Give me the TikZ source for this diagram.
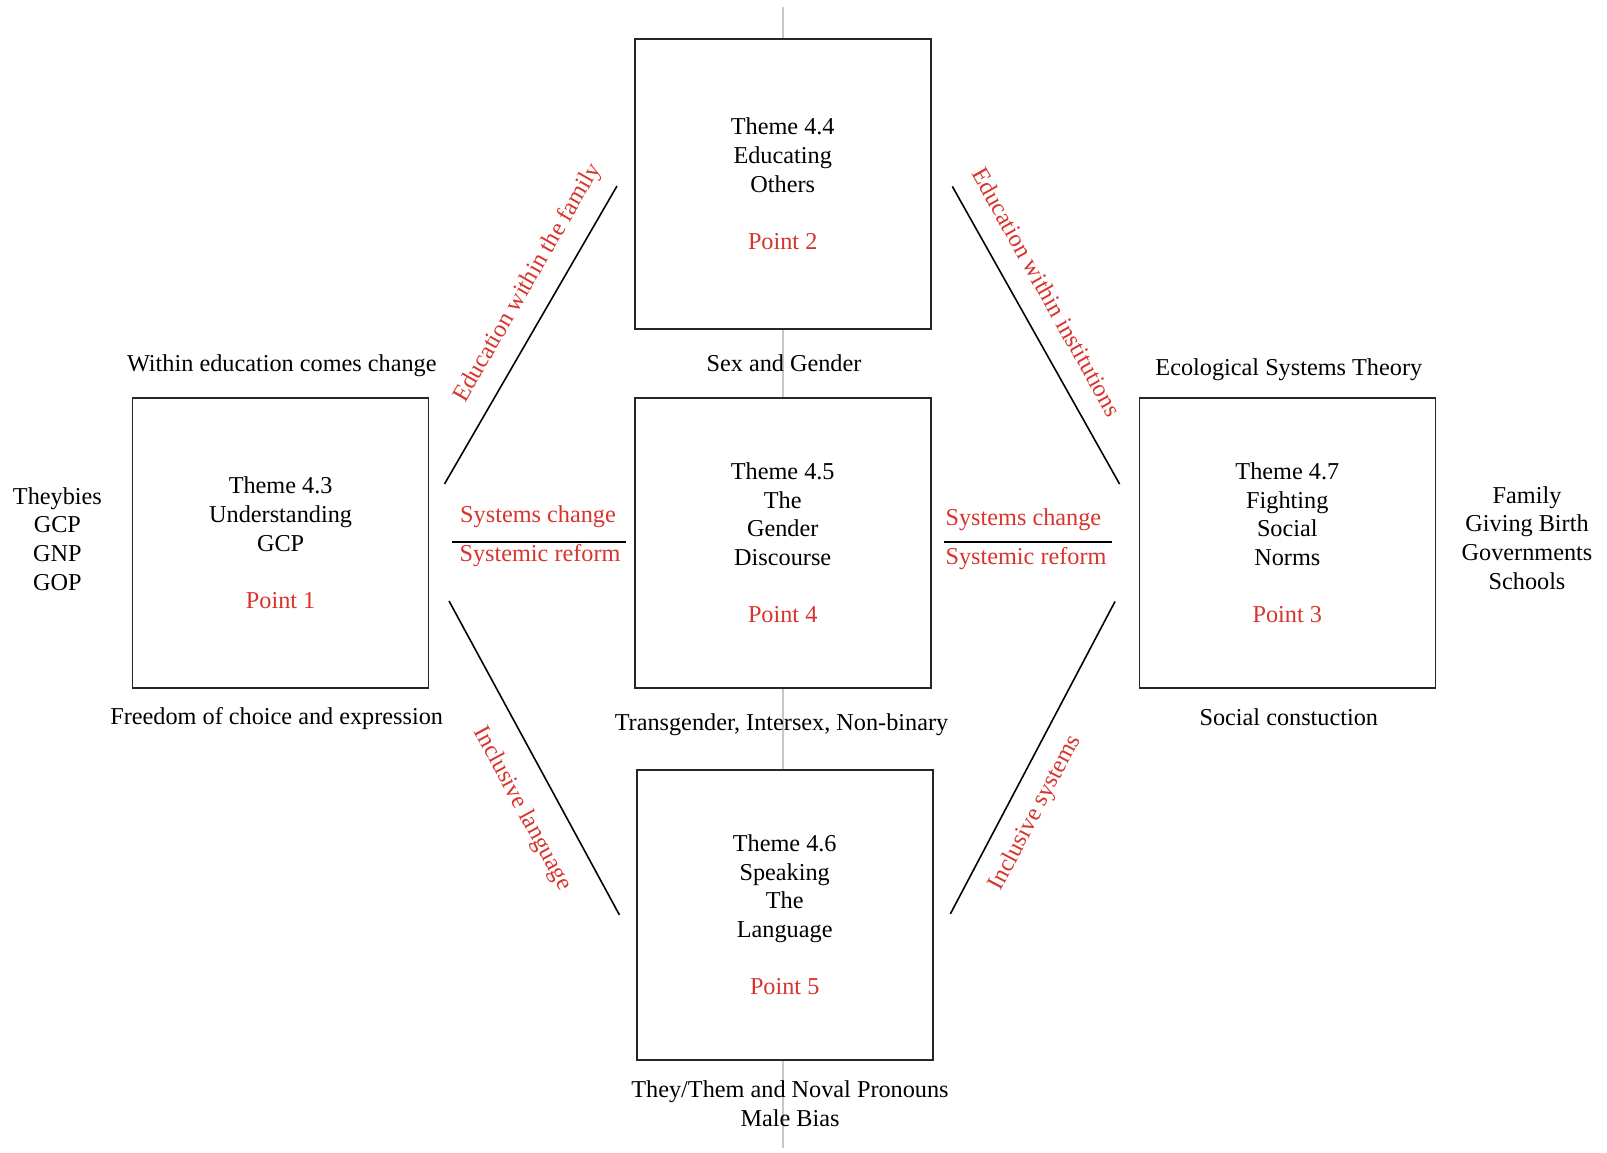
\documentclass[tikz,border=0pt]{standalone}
\usepackage{fontspec}
\setmainfont{Liberation Serif}
\usepackage{tikz}

\definecolor{ptred}{RGB}{215,52,45}

\begin{document}
\begin{tikzpicture}[
        themebox/.style={draw=black!85, line width=0.9pt, fill=white, minimum width=5.92cm, minimum height=5.8cm, inner sep=0pt, align=center, font=\fontsize{13.8}{16.3}\selectfont},
        blktxt/.style={align=center, inner sep=0pt, font=\fontsize{13.8}{16.3}\selectfont},
        redtxt/.style={blktxt, text=ptred}
    ]
        \useasboundingbox (0,0) rectangle (32.14,23.04);

        % 中间的灰色竖线
        \coordinate (vtop) at (15.66,22.9);
        \coordinate (vbot) at (15.66,0.08);
        \draw[black!22, line width=1.6pt] (vtop) -- (vbot);

        % 五个主题方框
        \node[themebox] (t44) at (15.654,19.362) {Theme 4.4\\Educating\\Others\\[16.3pt]\textcolor{ptred}{Point 2}};
        \node[themebox] (t43) at (5.612,12.18) {Theme 4.3\\Understanding\\GCP\\[16.3pt]\textcolor{ptred}{Point 1}};
        \node[themebox] (t45) at (15.654,12.18) {Theme 4.5\\The\\Gender\\Discourse\\[16.3pt]\textcolor{ptred}{Point 4}};
        \node[themebox] (t47) at (25.746,12.18) {Theme 4.7\\Fighting\\Social\\Norms\\[16.3pt]\textcolor{ptred}{Point 3}};
        \node[themebox] (t46) at (15.694,4.74) {Theme 4.6\\Speaking\\The\\Language\\[16.3pt]\textcolor{ptred}{Point 5}};

        % 方框外的说明文字
        \node[blktxt] (within) at (5.636,15.722) {Within education comes change};
        \node[blktxt] (freedom) at (5.534,8.67) {Freedom of choice and expression};
        \node[blktxt] (sexgen) at (15.68,15.784) {Sex and Gender};
        \node[blktxt] (trans) at (15.63,8.548) {Transgender, Intersex, Non-binary};
        \node[blktxt] (eco) at (25.776,15.64) {Ecological Systems Theory};
        \node[blktxt] (social) at (25.776,8.692) {Social constuction};
        \node[blktxt] (pronoun) at (15.8,0.962) {They/Them and Noval Pronouns\\Male Bias};
        \node[blktxt] (leftlist) at (1.148,12.26) {Theybies\\GCP\\GNP\\GOP};
        \node[blktxt] (rightlist) at (30.54,12.28) {Family\\Giving Birth\\Governments\\Schools};

        % 左右两条分隔线
        \coordinate (dl1) at (9.04,12.202);
        \coordinate (dl2) at (12.52,12.202);
        \coordinate (dr1) at (18.88,12.202);
        \coordinate (dr2) at (22.24,12.202);
        \draw[line width=1.3pt] (dl1) -- (dl2);
        \draw[line width=1.3pt] (dr1) -- (dr2);
        \node[redtxt] (scl) at (10.76,12.708) {Systems change};
        \node[redtxt] (srl) at (10.8,11.93) {Systemic reform};
        \node[redtxt] (scr) at (20.468,12.648) {Systems change};
        \node[redtxt] (srr) at (20.52,11.868) {Systemic reform};

        % 四条斜线
        \coordinate (ula) at (8.89,13.36);
        \coordinate (ulb) at (12.34,19.32);
        \coordinate (ura) at (19.046,19.312);
        \coordinate (urb) at (22.392,13.358);
        \coordinate (lla) at (8.98,11.02);
        \coordinate (llb) at (12.388,4.742);
        \coordinate (lra) at (22.3,11.01);
        \coordinate (lrb) at (19.006,4.76);
        \draw[line width=0.9pt] (ula) -- (ulb);
        \draw[line width=0.9pt] (ura) -- (urb);
        \draw[line width=0.9pt] (lla) -- (llb);
        \draw[line width=0.9pt] (lra) -- (lrb);

        % 斜线旁的红色标签
        \node[redtxt, rotate=59.9] (fam) at (10.56,17.38) {Education within the family};
        \node[redtxt, rotate=-60.7] (inst) at (20.94,17.2) {Education within institutions};
        \node[redtxt, rotate=-61.6] (lang) at (10.44,6.86) {Inclusive language};
        \node[redtxt, rotate=62.2] (incl) at (20.71,6.78) {Inclusive systems};

    \end{tikzpicture}
\end{document}
